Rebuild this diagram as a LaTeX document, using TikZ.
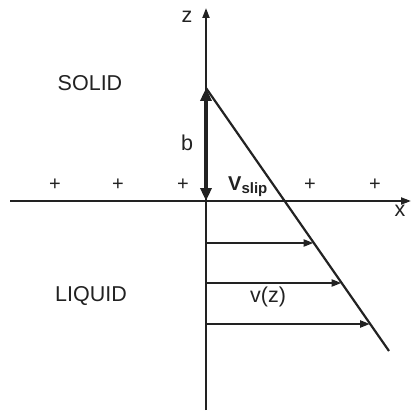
\documentclass[tikz,border=0pt]{standalone}
\usepackage{fontspec}
\setmainfont{Liberation Sans}
\usetikzlibrary{arrows.meta}
\definecolor{ink}{HTML}{222222}
\begin{document}
\begin{tikzpicture}[x=1pt,y=-1pt,
  axis/.style={draw=ink,line width=1.9pt},
  vel/.style={draw=ink,line width=2.3pt,-{Triangle[length=10pt,width=7pt]}},
  lbl/.style={text=ink,font=\fontsize{21.5}{24}\selectfont,inner sep=0pt},
  plus/.style={text=ink,font=\fontsize{20}{22}\selectfont,inner sep=0pt}]
\useasboundingbox (0,0) rectangle (412,414);
% axes
\coordinate (zb) at (206,410);
\coordinate (zt) at (206,8);
\coordinate (xl) at (10,201);
\coordinate (xr) at (411,201);
\draw[axis,-{Triangle[length=10pt,width=7pt]}] (zb) -- (zt);
\draw[axis,-{Triangle[length=10pt,width=7pt]}] (xl) -- (xr);
% profile line
\coordinate (top) at (206,88);
\coordinate (bot) at (389,351);
\draw[draw=ink,line width=2.2pt] (top) -- (bot);
% slip length
\coordinate (o) at (206,201);
\draw[draw=ink,line width=4pt,{Triangle[length=13pt,width=11pt]}-{Triangle[length=13pt,width=11pt]}] (top) -- (o);
% velocity arrows
\coordinate (a1) at (206,243);
\coordinate (b1) at (313.5,243);
\coordinate (a2) at (206,283);
\coordinate (b2) at (341.5,283);
\coordinate (a3) at (206,324);
\coordinate (b3) at (370,324);
\draw[vel] (a1) -- (b1);
\draw[vel] (a2) -- (b2);
\draw[vel] (a3) -- (b3);
% labels
\node[lbl] (zl) at (187,17) {z};
\node[lbl] (xlab) at (400,211) {x};
\node[lbl] (solid) at (90,83) {SOLID};
\node[lbl] (liquid) at (91,296) {LIQUID};
\node[lbl] (bl) at (187,143) {b};
\node[lbl] (vz) at (268,297) {v(z)};
\node[text=ink,inner sep=0pt,anchor=base west] (vs) at (228,190) {\fontsize{20}{22}\selectfont\bfseries V\textsubscript{\fontsize{15}{16}\selectfont slip}};
\foreach \i/\px in {1/55,2/118,3/183,4/310,5/375}
  \node[plus] (p\i) at (\px,185) {+};
\end{tikzpicture}
\end{document}
